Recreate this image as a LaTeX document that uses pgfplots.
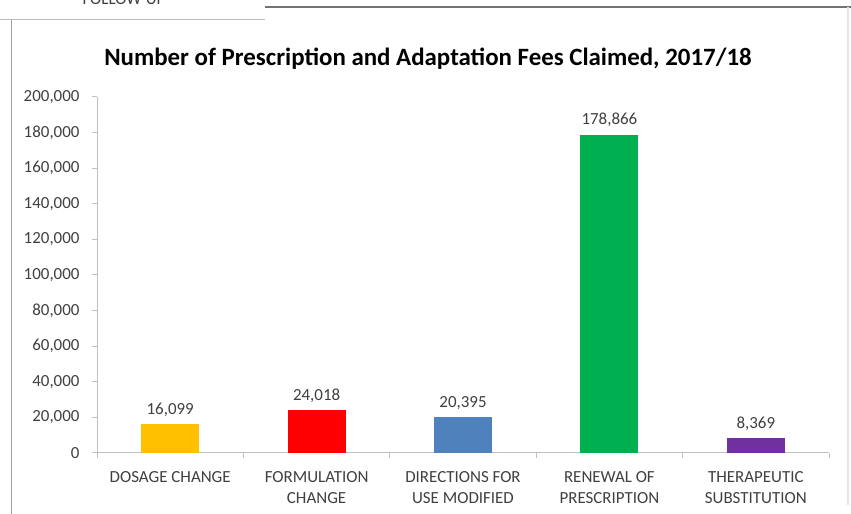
\documentclass[border=0pt]{standalone}
\usepackage{pgfplots}
\pgfplotsset{compat=1.18}
\usepackage{fontspec}
\setmainfont{Carlito}
\definecolor{cYellow}{HTML}{FFC000}
\definecolor{cRed}{HTML}{FF0000}
\definecolor{cBlue}{HTML}{4F81BD}
\definecolor{cGreen}{HTML}{00B050}
\definecolor{cPurple}{HTML}{7030A0}
\definecolor{txt}{HTML}{404040}
\definecolor{axgray}{HTML}{BFBFBF}
\pgfkeys{/pgf/number format/.cd, fixed, precision=0, 1000 sep={,}, assume math mode=true}
\begin{document}
\begin{tikzpicture}
\useasboundingbox (0,0) rectangle (851bp,514bp);
\clip (0,0) rectangle (851bp,514bp);
\fill[white] (0,0) rectangle (851bp,514bp);
\draw[gray!55, line width=1bp] (0,494bp) -- (265bp,494bp);
\draw[gray!90!black, line width=1.2bp] (265bp,507bp) -- (851bp,507bp);
\draw[gray!75, line width=1bp] (11bp,494bp) -- (11bp,0);
\draw[gray!20, line width=1.5bp] (848bp,507bp) -- (848bp,9bp);
\node[font=\fontsize{17}{19}\selectfont, text=txt, anchor=base] at (124bp,509bp) {FOLLOW-UP};
\node[font=\bfseries\fontsize{25}{28}\selectfont, text=black, anchor=base] at (428bp,448.3bp) {Number of Prescription and Adaptation Fees Claimed, 2017/18};
\begin{axis}[
  at={(97bp,61bp)}, anchor=south west,
  scale only axis, width=732bp, height=356bp,
  xmin=-0.5, xmax=4.5, ymin=0, ymax=200000,
  axis x line*=bottom, axis y line*=left,
  axis line style={draw=axgray, line width=1bp},
  tick style={draw=axgray, line width=1bp},
  tick align=outside, major tick length=5bp,
  ytick={0,20000,...,200000},
  scaled y ticks=false,
  yticklabel style={font=\fontsize{17}{20}\selectfont, text=txt, xshift=-9bp},
  xtick={-0.5,0.5,...,4.5},
  x tick label as interval,
  xticklabels={{DOSAGE CHANGE},{FORMULATION\\CHANGE},{DIRECTIONS FOR\\USE MODIFIED},{RENEWAL OF\\PRESCRIPTION},{THERAPEUTIC\\SUBSTITUTION}},
  xticklabel style={font=\fontsize{17}{21}\selectfont, text=txt, align=center, anchor=north, yshift=-10bp},
  ybar, bar width=58bp, bar shift=0pt,
  nodes near coords,
  every node near coord/.append style={font=\fontsize{17}{20}\selectfont, text=txt, yshift=4bp},
  clip=false,
]
\addplot[fill=cYellow, draw=none] coordinates {(0,16099)};
\addplot[fill=cRed, draw=none] coordinates {(1,24018)};
\addplot[fill=cBlue, draw=none] coordinates {(2,20395)};
\addplot[fill=cGreen, draw=none] coordinates {(3,178866)};
\addplot[fill=cPurple, draw=none] coordinates {(4,8369)};
\end{axis}
\end{tikzpicture}
\end{document}
